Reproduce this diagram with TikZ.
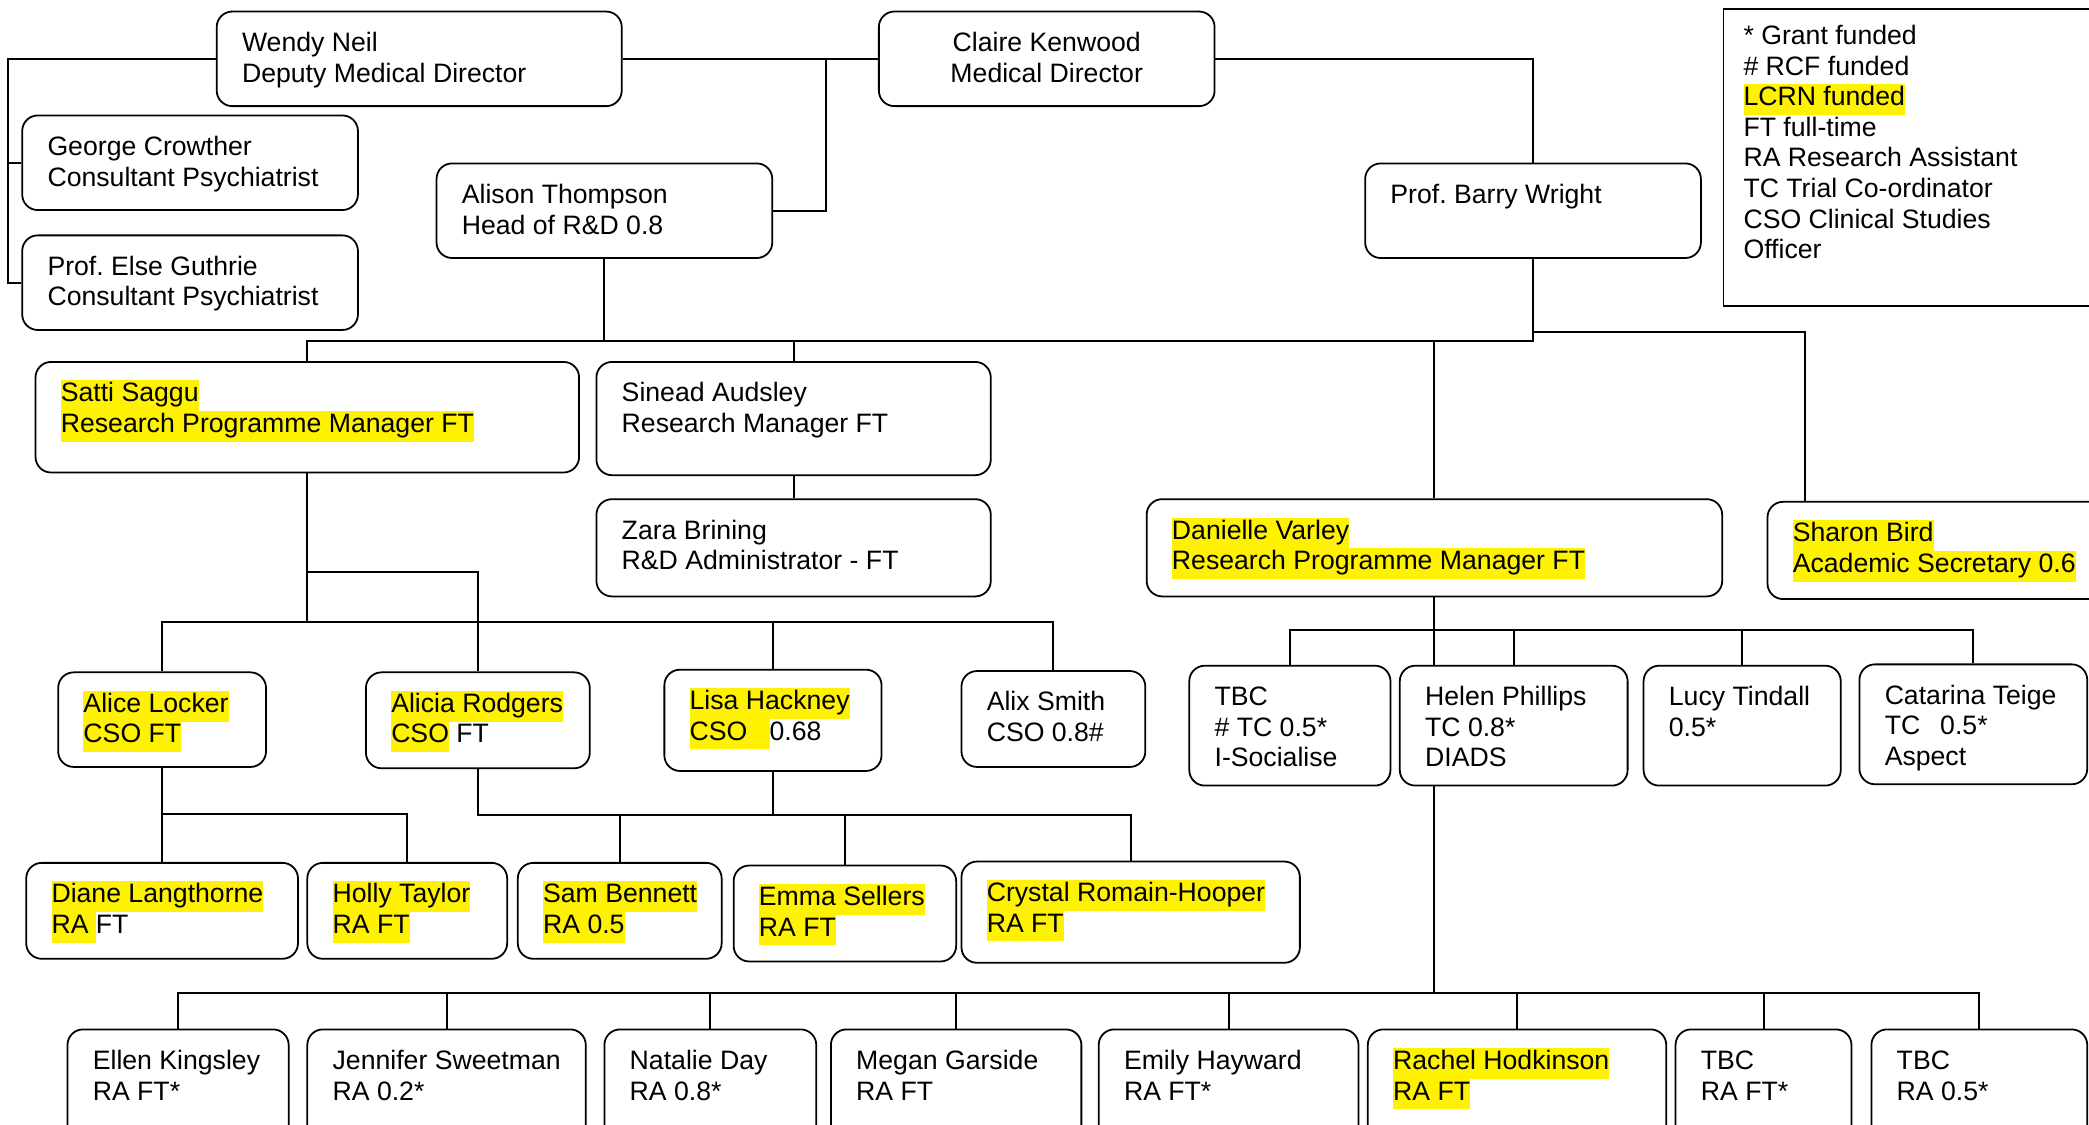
\documentclass[tikz,border=0pt]{standalone}
\usepackage{fontspec}
\setmainfont{Liberation Sans}
\usetikzlibrary{calc}
\frenchspacing

\newlength\px
\setlength\px{0.6pt}
% highlighted text
\newcommand\hl[1]{{\setlength\fboxsep{0pt}\colorbox{yellow}{\strut#1}}}
% box contents: width, height, lines
\newcommand\who[3]{\parbox[t][#2\px][t]{#1\px}{\raggedright\leftskip=19\px\hyphenpenalty=10000\rule{0pt}{18pt}#3}}
\newcommand\whomid[3]{\parbox[t][#2\px][t]{#1\px}{\centering\rule{0pt}{18pt}#3}}

\tikzset{
  card/.style={draw, line width=0.8pt, rounded corners=7pt, inner sep=0pt, anchor=north west, font=\fontsize{12}{13.8}\selectfont},
  wire/.style={line width=0.9pt},
}

\begin{document}
\begin{tikzpicture}[x=0.6pt, y=-0.6pt]
\useasboundingbox (0,0) rectangle (1568,844);
\clip (0,0) rectangle (1568,844);

            % Directors
            \node[card] (wendy) at (162,8) {\who{304}{71}{Wendy Neil\\Deputy Medical Director}};
            \node[card] (claire) at (659,8) {\whomid{252}{71}{Claire Kenwood\\Medical Director}};
            \node[card] (george) at (16,86) {\who{252}{71}{George Crowther\\Consultant Psychiatrist}};
            \node[card] (guthrie) at (16,176) {\who{252}{71}{Prof. Else Guthrie\\Consultant Psychiatrist}};
            \node[card] (alison) at (327,122) {\who{252}{71}{Alison Thompson\\Head of R\&D 0.8}};
            \node[card] (barry) at (1024,122) {\who{252}{71}{Prof. Barry Wright}};

            % Key
            \node[card, sharp corners] (legend) at (1293,6) {\parbox[t][223\px][t]{320\px}{\leftskip=15\px\rule{0pt}{16pt}* Grant funded\\\# RCF funded\\\hl{LCRN funded}\\FT full-time\\RA Research Assistant\\TC Trial Co-ordinator\\CSO Clinical Studies\\Officer}};

            % Managers
            \node[card] (satti) at (26,271) {\who{408}{83}{\hl{Satti Saggu}\\\hl{Research Programme Manager FT}}};
            \node[card] (sinead) at (447,271) {\who{296}{85}{Sinead Audsley\\Research Manager FT}};
            \node[card] (zara) at (447,374) {\who{296}{73}{Zara Brining\\R\&D Administrator - FT}};
            \node[card] (danielle) at (860,374) {\who{432}{73}{\hl{Danielle Varley}\\\hl{Research Programme Manager FT}}};
            \node[card] (sharon) at (1326,376) {\who{280}{73}{\hl{Sharon Bird}\\\hl{Academic Secretary 0.6}}};

            % CSOs and TCs
            \node[card] (alice) at (43,504) {\who{156}{71}{\hl{Alice Locker}\\\hl{CSO FT}}};
            \node[card] (alicia) at (274,504) {\who{168}{72}{\hl{Alicia Rodgers}\\\hl{CSO} FT}};
            \node[card] (lisa) at (498,502) {\who{163}{76}{\hl{Lisa Hackney}\\\hl{CSO\hspace{10pt}}0.68}};
            \node[card] (alix) at (721,503) {\who{138}{72}{Alix Smith\\CSO 0.8\#}};
            \node[card] (socialise) at (892,499) {\who{151}{90}{TBC\\\# TC 0.5*\\I-Socialise}};
            \node[card] (helen) at (1050,499) {\who{171}{90}{Helen Phillips\\TC 0.8*\\DIADS}};
            \node[card] (lucy) at (1233,499) {\who{148}{90}{Lucy Tindall\\0.5*}};
            \node[card] (catarina) at (1395,498) {\who{171}{90}{Catarina Teige\\TC\hspace{9pt}0.5*\\Aspect}};

            % RAs under CSOs
            \node[card] (diane) at (19,647) {\who{204}{72}{\hl{Diane Langthorne}\\\hl{RA }FT}};
            \node[card] (holly) at (230,647) {\who{150}{72}{\hl{Holly Taylor}\\\hl{RA FT}}};
            \node[card] (sam) at (388,647) {\who{153}{72}{\hl{Sam Bennett}\\\hl{RA 0.5}}};
            \node[card] (emma) at (550,649) {\who{167}{72}{\hl{Emma Sellers}\\\hl{RA FT}}};
            \node[card] (crystal) at (721,646) {\who{254}{76}{\hl{Crystal Romain-Hooper}\\\hl{RA FT}}};

            % RAs under TCs
            \node[card] (ellen) at (50,772) {\who{166}{90}{Ellen Kingsley\\RA FT*}};
            \node[card] (jennifer) at (230,772) {\who{209}{90}{Jennifer Sweetman\\RA 0.2*}};
            \node[card] (natalie) at (453,772) {\who{159}{90}{Natalie Day\\RA 0.8*}};
            \node[card] (megan) at (623,772) {\who{188}{90}{Megan Garside\\RA FT}};
            \node[card] (emily) at (824,772) {\who{195}{90}{Emily Hayward\\RA FT*}};
            \node[card] (rachel) at (1026,772) {\who{224}{90}{\hl{Rachel Hodkinson}\\\hl{RA FT}}};
            \node[card] (tbcra) at (1257,772) {\who{132}{90}{TBC\\RA FT*}};
            \node[card] (tbcrb) at (1404,772) {\who{162}{90}{TBC\\RA 0.5*}};

            % Bus levels
            \coordinate (leftrail) at (6,0);
            \coordinate (busA) at (0,256);
            \coordinate (busB) at (0,249);
            \coordinate (busD) at (0,429);
            \coordinate (busC) at (0,467);
            \coordinate (busE) at (0,473);
            \coordinate (busG) at (0,611);
            \coordinate (busH) at (0,612);
            \coordinate (busF) at (0,745);

            % Connect directors
            \draw[wire] (wendy.west) -| (leftrail |- guthrie.west) -- (guthrie.west);
            \draw[wire] (leftrail |- george.west) -- (george.west);
            \draw[wire] (wendy.east) -- (claire.west);
            \draw[wire] ($(claire.west)+(-39,0)$) |- (alison.east);
            \draw[wire] (claire.east) -| (barry.north);

            % Connect managers
            \draw[wire] (alison.south) -- (alison.south |- busA);
            \draw[wire] (satti.north) |- (barry.south |- busA) -- (barry.south);
            \draw[wire] (sinead.north) -- (sinead.north |- busA);
            \draw[wire] (danielle.north) -- (danielle.north |- busA);
            \draw[wire] (barry.south |- busB) -| ($(sharon.north west)+(29,0)$);
            \draw[wire] (sinead.south) -- (zara.north);

            % Connect Satti's team
            \draw[wire] (satti.south) -- (satti.south |- busC);
            \draw[wire] (alice.north) |- (alix.north |- busC) -- (alix.north);
            \draw[wire] (lisa.north) -- (lisa.north |- busC);
            \draw[wire] (satti.south |- busD) -| (alicia.north);

            % Connect Danielle's team
            \draw[wire] (socialise.north) |- (catarina.north |- busE) -- (catarina.north);
            \foreach \n in {helen,lucy}
            \draw[wire] (\n.north) -- (\n.north |- busE);
            \draw[wire] (danielle.south) -- (danielle.south |- helen.north);
            \draw[wire] (danielle.south |- helen.south) -- (danielle.south |- busF);

            % Connect RAs
            \draw[wire] (alice.south) -- (diane.north);
            \draw[wire] (alice.south |- busG) -| (holly.north);
            \draw[wire] (alicia.south) |- (crystal.north |- busH) -- (crystal.north);
            \draw[wire] (lisa.south) -- (lisa.south |- busH);
            \foreach \n in {sam,emma}
            \draw[wire] (\n.north) -- (\n.north |- busH);

            \draw[wire] (ellen.north) |- (tbcrb.north |- busF) -- (tbcrb.north);
            \foreach \n in {jennifer,natalie,megan,emily,rachel,tbcra}
            \draw[wire] (\n.north) -- (\n.north |- busF);

\end{tikzpicture}
\end{document}
